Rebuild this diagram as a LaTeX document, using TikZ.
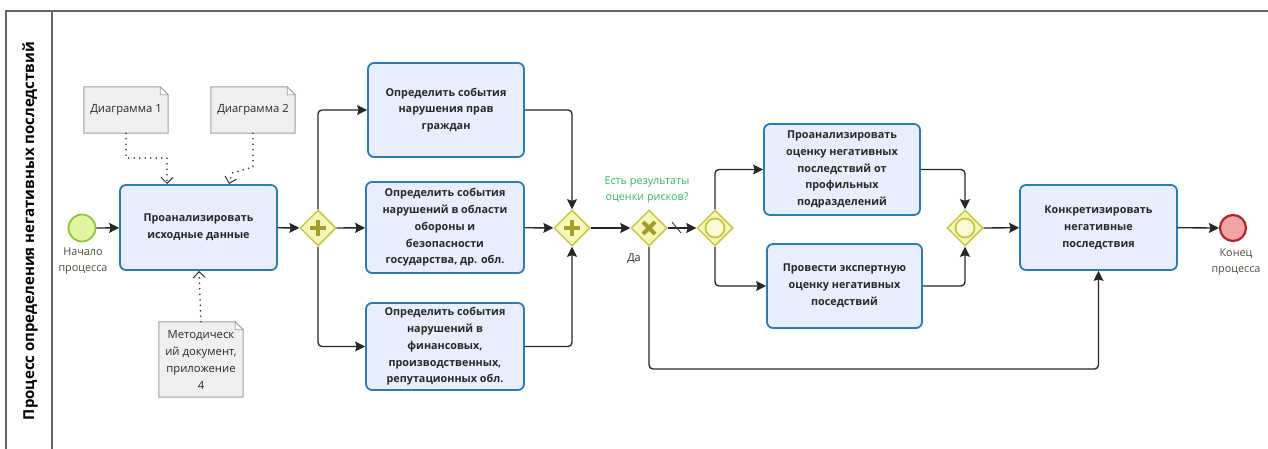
\documentclass[tikz,border=0pt]{standalone}
\usepackage{fontspec}
\setmainfont{Open Sans}
\usetikzlibrary{shapes.geometric,arrows.meta,backgrounds,calc}
\definecolor{taskfill}{RGB}{232,238,252}
\definecolor{taskline}{RGB}{44,124,176}
\definecolor{notefill}{RGB}{240,240,240}
\definecolor{noteline}{RGB}{160,160,160}
\definecolor{gwfill}{RGB}{246,246,186}
\definecolor{gwline}{RGB}{200,200,70}
\definecolor{gwsym}{RGB}{160,160,40}
\definecolor{startfill}{RGB}{226,245,160}
\definecolor{startline}{RGB}{140,198,62}
\definecolor{endfill}{RGB}{240,164,164}
\definecolor{endline}{RGB}{176,36,44}
\definecolor{lbl}{RGB}{80,74,66}
\definecolor{condgreen}{RGB}{52,184,96}
\definecolor{poolline}{RGB}{100,100,100}
\definecolor{txt}{RGB}{40,40,40}
\tikzset{
  task/.style={draw=taskline, fill=taskfill, line width=1.8pt, rounded corners=6pt,
    align=center, text=txt, font=\fontsize{10.8}{16.8}\selectfont\bfseries, inner sep=2pt},
  note/.style={align=center, text=txt, font=\fontsize{11.3}{17}\selectfont, inner sep=2pt},
  notebg/.style={fill=notefill, draw=noteline, line width=1pt},
  gw/.style={diamond, draw=gwline, fill=gwfill, line width=1.5pt, minimum width=36pt, minimum height=36pt, inner sep=0pt, aspect=1},
  flow/.style={draw=black!85, line width=1.3pt, rounded corners=4pt, -{Stealth[length=10pt,width=10pt,inset=1.5pt]}},
  assoc/.style={draw=black!80, line width=1.8pt, dash pattern=on 0pt off 5.5pt, line cap=round, -{Straight Barb[length=6pt,width=12pt,line width=1pt]}},
  lab/.style={text=lbl, font=\fontsize{10.8}{16}\selectfont, align=center}
}
\newcommand{\notefold}[1]{%
  \path[notebg] (#1.south west) -- (#1.north west) -- ([xshift=-8pt]#1.north east) -- ([yshift=-8pt]#1.north east) -- (#1.south east) -- cycle;
  \path[draw=noteline, fill=white, line width=0.8pt] ([xshift=-8pt]#1.north east) -- ([xshift=-8pt,yshift=-8pt]#1.north east) -- ([yshift=-8pt]#1.north east) -- cycle;}
\begin{document}
\begin{tikzpicture}[x=1pt,y=-1pt]
\useasboundingbox (0,0) rectangle (1268,449);
% pool
\draw[poolline, line width=1.5pt] (6,449) -- (6,11) -- (1268,11);
\draw[poolline, line width=1.5pt] (52,11) -- (52,449);
\node[rotate=90, font=\fontsize{15}{18}\selectfont\bfseries, text=black] (title) at (30,231) {Процесс определения негативных последствий};

% events
\node[circle, draw=startline, fill=startfill, line width=1.8pt, minimum size=27pt, inner sep=0pt] (start) at (82,228) {};
\node[lab] (startlbl) at (83,261) {Начало\\процесса};
\node[circle, draw=endline, fill=endfill, line width=2.2pt, minimum size=26pt, inner sep=0pt] (end) at (1233,228) {};
\node[lab] (endlbl) at (1236,262) {Конец\\процесса};

% tasks
\node[task, minimum width=157pt, minimum height=85pt] (t1) at (198.5,227.5) {Проанализировать\\исходные данные};
\node[task, minimum width=156pt, minimum height=94pt] (tA) at (446,110) {Определить события\\нарушения прав\\граждан};
\node[task, minimum width=158pt, minimum height=91pt] (tB) at (445,227.5) {Определить события\\нарушений в области\\обороны и\\безопасности\\государства, др. обл.};
\node[task, minimum width=158pt, minimum height=87pt] (tC) at (445,346.5) {Определить события\\нарушений в\\финансовых,\\производственных,\\репутационных обл.};
\node[task, minimum width=156pt, minimum height=91pt] (tD) at (842,169.5) {Проанализировать\\оценку негативных\\последствий от\\профильных\\подразделений};
\node[task, minimum width=155pt, minimum height=84pt] (tE) at (844.5,286) {Провести экспертную\\оценку негативных\\поседствий};
\node[task, minimum width=157pt, minimum height=85pt] (tF) at (1098.5,227.5) {Конкретизировать\\негативные\\последствия};

% notes
\node[note, minimum width=84pt, minimum height=46pt] (n1) at (126,110) {Диаграмма 1};
\node[note, minimum width=84pt, minimum height=46pt] (n2) at (253,110) {Диаграмма 2};
\node[note, minimum width=84pt, minimum height=75pt, inner sep=1pt] (n3) at (201,359.5) {Методическ\\ий документ,\\приложение\\4};
\begin{scope}[on background layer]
\notefold{n1}
\notefold{n2}
\notefold{n3}
\end{scope}

% gateways
\node[gw] (g1) at (318,228) {};
\node[gw] (g2) at (572,228) {};
\node[gw] (gx) at (649,228) {};
\node[gw] (go1) at (715,228) {};
\node[gw] (go2) at (965,228) {};
\foreach \g in {g1,g2}{
  \draw[gwsym, line width=4.5pt] ($(\g)+(-8,0)$) -- ($(\g)+(8,0)$);
  \draw[gwsym, line width=4.5pt] ($(\g)+(0,-8)$) -- ($(\g)+(0,8)$);
}
\draw[gwsym, line width=4pt] ($(gx)+(-6,-6)$) -- ($(gx)+(6,6)$);
\draw[gwsym, line width=4pt] ($(gx)+(-6,6)$) -- ($(gx)+(6,-6)$);
\foreach \g in {go1,go2}{
  \draw[gwline, fill=gwfill!60!white, line width=1.8pt] (\g) circle (9.5pt);
}
\node[text=condgreen, font=\fontsize{10.8}{16}\selectfont, align=center] (cond) at (647,190) {Есть результаты\\оценки рисков?};
\node[text=txt, font=\fontsize{10.8}{14}\selectfont] (yes) at (634,259) {Да};

% flows
\draw[flow] (start) -- (t1);
\draw[flow] (t1) -- (g1);
\draw[flow] (g1.north) |- (tA.west);
\draw[flow] (g1) -- (tB);
\draw[flow] (g1.south) |- (tC.west);
\draw[flow] (tA.east) -| (g2.north);
\draw[flow] (tB) -- (g2);
\draw[flow] (tC.east) -| (g2.south);
\draw[flow] (g2) -- (gx);
\draw[flow] (gx) -- (go1);
\coordinate (slashA) at (672,222);
\coordinate (slashB) at (681,233);
\draw[black!75, line width=0.9pt] (slashA) -- (slashB);
\draw[flow] (go1.north) |- (tD.west);
\draw[flow] (go1.south) |- (tE.west);
\draw[flow] (tD.east) -| (go2.north);
\draw[flow] (tE.east) -| (go2.south);
\draw[flow] (go2) -- (tF);
\draw[flow] (tF) -- (end);
\coordinate (loopy) at (0,369);
\draw[flow] (gx.south) -- (gx.south |- loopy) -| (tF.south);

% associations
\coordinate (a1) at (126,158);
\coordinate (a1e) at (167,184);
\draw[assoc] (n1.south) |- (a1) -| (a1e);
\coordinate (a2) at (253,167);
\coordinate (a2b) at (232,173);
\coordinate (a2e) at (229,184);
\draw[assoc] (n2.south) -- (a2) -- (a2b) -- (a2e);
\coordinate (a3e) at (199,271);
\draw[assoc] (n3.north) -- (a3e);
\end{tikzpicture}
\end{document}
